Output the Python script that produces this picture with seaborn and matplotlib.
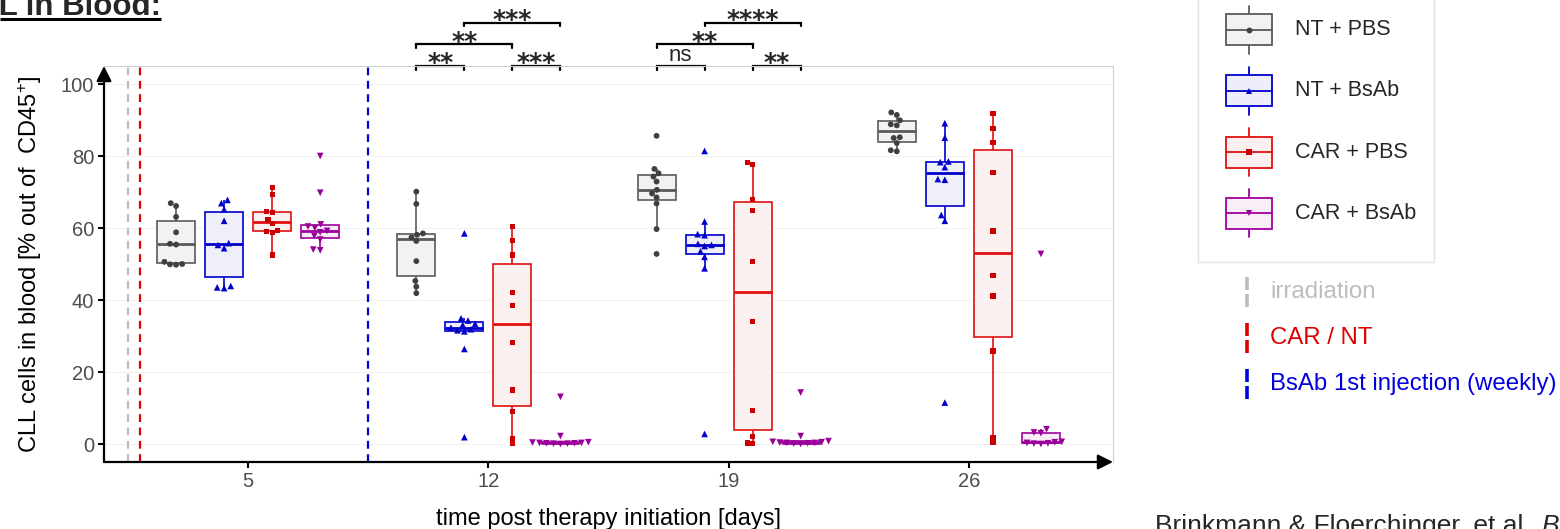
import numpy as np
import pandas as pd
import matplotlib
matplotlib.use("Agg")
import matplotlib.pyplot as plt
from matplotlib.patches import Rectangle
import seaborn as sns

# ---------------- data ----------------
days = ["5", "12", "19", "26"]
groups = ["NT + PBS", "NT + BsAb", "CAR + PBS", "CAR + BsAb"]

nt_pbs = [
    [66.9, 66.1, 63.1, 58.8, 55.6, 55.4, 50.6, 50.0, 49.9, 49.8],
    [70.1, 66.7, 58.5, 58.1, 57.4, 56.4, 50.8, 45.3, 43.7, 41.9],
    [85.6, 76.4, 75.2, 74.3, 72.9, 70.6, 69.6, 68.5, 66.8, 59.7, 52.8],
    [92.1, 91.4, 89.9, 88.8, 88.5, 85.2, 85.0, 83.6, 81.6, 81.3],
]
nt_bsab = [
    [67.8, 66.9, 65.2, 62.0, 55.8, 55.3, 54.4, 43.9, 43.5, 43.3],
    [58.5, 34.9, 34.3, 33.4, 33.1, 32.3, 31.9, 31.6, 31.3, 26.4, 1.9],
    [81.4, 61.8, 58.3, 58.0, 55.6, 55.3, 55.0, 53.5, 52.0, 48.8, 2.8],
    [89.1, 85.1, 78.5, 78.3, 76.9, 73.6, 73.4, 63.6, 62.0, 11.5],
]
car_pbs = [
    [71.2, 69.3, 64.6, 64.3, 62.2, 61.2, 59.4, 59.0, 58.8, 52.5],
    [60.4, 56.5, 52.5, 42.0, 38.5, 28.1, 15.0, 9.0, 1.6, 0.1],
    [78.1, 77.6, 68.0, 64.8, 50.6, 34.0, 9.4, 2.0, 0.3, 0.1],
    [91.8, 87.7, 83.7, 75.4, 59.2, 46.8, 41.1, 25.8, 1.9, 0.4],
]
car_bsab = [
    [80.0, 69.8, 61.0, 60.4, 60.0, 59.2, 58.8, 57.8, 56.8, 54.0, 53.8],
    [13.1, 2.2, 0.5, 0.4, 0.3, 0.3, 0.2, 0.2, 0.1, 0.1, 0.0],
    [14.3, 2.2, 0.8, 0.6, 0.5, 0.4, 0.3, 0.3, 0.2, 0.1, 0.0],
    [52.8, 4.1, 3.2, 3.0, 0.6, 0.5, 0.3, 0.2, 0.1, 0.0],
]

# significance annotations: (day, group A, group B, level, label)
sig_day = ["12", "12", "12", "12", "19", "19", "19", "19"]
sig_a = ["NT + PBS", "CAR + PBS", "NT + PBS", "NT + BsAb",
         "NT + PBS", "CAR + PBS", "NT + PBS", "NT + BsAb"]
sig_b = ["NT + BsAb", "CAR + BsAb", "CAR + PBS", "CAR + BsAb",
         "NT + BsAb", "CAR + BsAb", "CAR + PBS", "CAR + BsAb"]
sig_level = [105, 105, 111, 117, 105, 105, 111, 117]
sig_label = ["**", "***", "**", "***", "ns", "**", "**", "****"]

# event lines (positions on category axis)
event_names = ["irradiation", "CAR / NT", "BsAb 1st injection (weekly)"]
event_pos = [-0.5, -0.45, 0.5]

# ---------------- styling ----------------
edge_cols = ["#5a5a5a", "#0000CC", "#E01010", "#A000A0"]
fill_cols = ["#F2F2F2", "#EEEEFA", "#FBEFEF", "#F7EEF7"]
pt_cols = ["#404040", "#0000CC", "#CC0000", "#990099"]
markers = ["o", "^", "s", "v"]
msizes = [4.2, 4.8, 3.8, 4.8]
event_cols = ["#BDBDBD", "#DD0000", "#0000DD"]

sns.set_style("white")
plt.rcParams["font.family"] = ["Liberation Sans", "DejaVu Sans"]
plt.rcParams["mathtext.fontset"] = "custom"
plt.rcParams["mathtext.rm"] = "Liberation Sans"
plt.rcParams["mathtext.it"] = "Liberation Sans:italic"

series = {"NT + PBS": nt_pbs, "NT + BsAb": nt_bsab,
          "CAR + PBS": car_pbs, "CAR + BsAb": car_bsab}
rows = []
for g in groups:
    for d, vals in zip(days, series[g]):
        for v in vals:
            rows.append((d, g, v))
df = pd.DataFrame(rows, columns=["day", "group", "value"])

W, H = 1560, 529
fig = plt.figure(figsize=(W / 100, H / 100), dpi=100)
ax = fig.add_axes([104 / W, 1 - 462 / H, 1009 / W, 396 / H])

# event lines
for pos, col in zip(event_pos, event_cols):
    ax.axvline(pos, color=col, lw=1.6, ls=(0, (3.5, 2.5)), zorder=1)

BOXW = 0.8
sns.boxplot(data=df, x="day", y="value", hue="group", order=days,
            hue_order=groups, palette=dict(zip(groups, fill_cols)),
            width=BOXW, gap=0.21, showcaps=False, showfliers=False,
            whis=1.5, linewidth=1.2, legend=False, ax=ax)
for cont, ec in zip(ax.containers, edge_cols):
    for b in cont.boxes:
        b.set_edgecolor(ec)
        b.set_linewidth(1.2)
    for ln in cont.whiskers:
        ln.set_color(ec)
        ln.set_linewidth(1.2)
    for ln in cont.medians:
        ln.set_color(ec)
        ln.set_linewidth(2.0)

for g, col, mk, ms in zip(groups, pt_cols, markers, msizes):
    sns.swarmplot(data=df[df["group"] == g], x="day", y="value", hue="group",
                  order=days, hue_order=groups, palette=dict(zip(groups, pt_cols)),
                  dodge=True, marker=mk, size=ms, linewidth=0, legend=False,
                  warn_thresh=1.0, ax=ax, zorder=4)

ax.set_xlim(-0.6, 3.6)
ax.set_ylim(-5, 105)
ax.set_yticks([0, 20, 40, 60, 80, 100])
ax.set_xlabel("")
ax.set_ylabel("")
ax.yaxis.grid(True, color="#F2F2F2", lw=0.8)
ax.set_axisbelow(True)
ax.tick_params(axis="both", direction="out", length=4, width=1.5,
               color="black", labelcolor="#4D4D4D", labelsize=14.5, pad=3,
               left=True, bottom=True)
for s in ["top", "right"]:
    ax.spines[s].set_color("#D0D0D0")
    ax.spines[s].set_linewidth(0.8)
for s in ["left", "bottom"]:
    ax.spines[s].set_visible(False)
arrow = dict(arrowstyle="-|>,head_length=0.7,head_width=0.35", color="black",
             lw=1.6, mutation_scale=13, shrinkA=0, shrinkB=0)
ax.annotate("", xy=(0, 1), xytext=(0, 0), xycoords="axes fraction",
            arrowprops=arrow, annotation_clip=False)
ax.annotate("", xy=(1, 0), xytext=(0, 0), xycoords="axes fraction",
            arrowprops=arrow, annotation_clip=False)

# significance brackets
ngr = len(groups)
def dodge_pos(day, g):
    return days.index(day) + (groups.index(g) - (ngr - 1) / 2) * (BOXW / ngr)

for d, a, b, lev, lab in zip(sig_day, sig_a, sig_b, sig_level, sig_label):
    x1, x2 = dodge_pos(d, a), dodge_pos(d, b)
    ax.plot([x1, x1, x2, x2], [lev - 1.0, lev, lev, lev - 1.0], color="black",
            lw=1.6, clip_on=False, solid_joinstyle="miter")
    if lab == "ns":
        ax.text((x1 + x2) / 2, lev + 1.3, lab, ha="center", va="baseline",
                fontsize=16, clip_on=False)
    else:
        ax.text((x1 + x2) / 2, lev - 1.2, lab, ha="center", va="baseline",
                fontsize=18, family="DejaVu Sans", fontweight="bold",
                clip_on=False)

# ---------------- overlay (texts & legend) ----------------
lax = fig.add_axes([0, 0, 1, 1], zorder=5)
lax.set_xlim(0, W)
lax.set_ylim(H, 0)
lax.axis("off")

lax.text(609, 519, "time post therapy initiation [days]", ha="center",
         va="center", fontsize=17, color="black")
lax.text(30, 264, r"CLL cells in blood [% out of  CD45$^{+}$]", ha="center",
         va="center", rotation=90, fontsize=17, color="black")

lax.text(161, 15, "CLL in Blood:", fontsize=22.5, fontweight="bold",
         ha="right", va="baseline")
lax.plot([0, 161], [18.5, 18.5], color="black", lw=2.2, solid_capstyle="butt")

lax.text(1155, 533, "Brinkmann & Floerchinger, et al.", fontsize=19,
         ha="left", va="baseline")
lax.text(1541, 533, "Blood", fontsize=19, style="italic", ha="left",
         va="baseline")

# legend
lax.add_patch(Rectangle((1198, -5), 236, 267, fc="white", ec="#E3E3E3", lw=1))
for i, g in enumerate(groups):
    cy = 29.5 + i * 61.3
    lax.add_patch(Rectangle((1226, cy - 15.5), 46, 31, fc=fill_cols[i],
                            ec=edge_cols[i], lw=1.3, zorder=6))
    lax.plot([1249, 1249], [cy - 24, cy - 15.5], color=edge_cols[i], lw=1.3)
    lax.plot([1249, 1249], [cy + 15.5, cy + 24], color=edge_cols[i], lw=1.3)
    lax.plot([1226, 1272], [cy, cy], color=edge_cols[i], lw=1.3, zorder=7)
    lax.plot([1249], [cy], marker=markers[i], color=pt_cols[i], ms=msizes[i],
             mew=0, zorder=8)
    lax.text(1295, cy, g, fontsize=15.5, va="center", ha="left")

for i, (nm, col) in enumerate(zip(event_names, event_cols)):
    cy = 292 + i * 46
    lax.plot([1247, 1247], [cy - 15, cy - 2], color=col, lw=2.6,
             solid_capstyle="butt")
    lax.plot([1247, 1247], [cy + 2, cy + 15], color=col, lw=2.6,
             solid_capstyle="butt")
    lax.text(1270, cy, nm, color=col, fontsize=17.3, va="center", ha="left")

fig.savefig("out.png", dpi=100)
